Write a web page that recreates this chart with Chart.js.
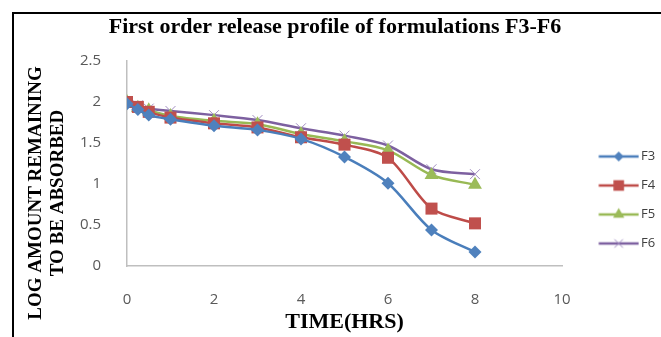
<!DOCTYPE html>
<html>
<head>
<meta charset="utf-8">
<script src="https://cdn.jsdelivr.net/npm/chart.js@4/dist/chart.umd.min.js"></script>
<style>
  html, body { margin: 0; padding: 0; background: #fff; }
  #wrap { position: relative; width: 661px; height: 337px; overflow: hidden; }
  #frame { position: absolute; left: 12px; top: 12px; right: -10px; bottom: -10px;
           border-left: 2px solid #000; border-top: 2px solid #000; pointer-events: none; }
  canvas { position: absolute; left: 0; top: 0; }
</style>
</head>
<body>
<div id="wrap">
  <canvas id="c" width="661" height="337"></canvas>
  <div id="frame"></div>
</div>
<script>
// ---- data ----
const chartTitle = 'First order release profile of formulations F3-F6';
const xTitle = 'TIME(HRS)';
const yTitleLines = ['LOG AMOUNT REMAINING', 'TO BE ABSORBED'];
const times = [0, 0.25, 0.5, 1, 2, 3, 4, 5, 6, 7, 8];
const seriesNames = ['F3', 'F4', 'F5', 'F6'];
const F3 = [1.98, 1.91, 1.84, 1.79, 1.71, 1.66, 1.55, 1.33, 1.01, 0.44, 0.17];
const F4 = [2.00, 1.94, 1.88, 1.81, 1.74, 1.69, 1.57, 1.48, 1.32, 0.70, 0.52];
const F5 = [2.00, 1.93, 1.90, 1.83, 1.77, 1.73, 1.61, 1.52, 1.41, 1.11, 0.99];
const F6 = [2.00, 1.96, 1.92, 1.89, 1.84, 1.78, 1.68, 1.59, 1.47, 1.18, 1.12];
const xTicks = [0, 2, 4, 6, 8, 10];
const yTicks = [0, 0.5, 1, 1.5, 2, 2.5];

// ---- styles ----
const styles = [
  { line: '#4A7EBB', fill: '#4F81BD', point: 'rectRot', r: 6.5, lr: 5 },
  { line: '#BE4B48', fill: '#C0504D', point: 'rect', r: 8.5, lr: 7.5 },
  { line: '#98B954', fill: '#9BBB59', point: 'triangle', r: 8, lr: 6.5 },
  { line: '#7D60A0', fill: '#A08CC0', point: 'crossRot', r: 7, lr: 6 }
];
const values = [F3, F4, F5, F6];

function drawMarker(ctx, style, r, x, y) {
  ctx.beginPath();
  if (style === 'rectRot') {
    ctx.moveTo(x, y - r); ctx.lineTo(x + r, y); ctx.lineTo(x, y + r); ctx.lineTo(x - r, y); ctx.closePath(); ctx.fill();
  } else if (style === 'rect') {
    const s = r * Math.SQRT1_2; ctx.rect(x - s, y - s, 2 * s, 2 * s); ctx.fill();
  } else if (style === 'triangle') {
    ctx.moveTo(x, y - r); ctx.lineTo(x + r * 0.866, y + r * 0.5); ctx.lineTo(x - r * 0.866, y + r * 0.5); ctx.closePath(); ctx.fill();
  } else {
    const s = r * Math.SQRT1_2;
    ctx.lineWidth = 1;
    ctx.moveTo(x - s, y - s); ctx.lineTo(x + s, y + s); ctx.moveTo(x + s, y - s); ctx.lineTo(x - s, y + s); ctx.stroke();
  }
}
function legendImage(st) {
  const c = document.createElement('canvas');
  c.width = 66; c.height = 18;
  const ctx = c.getContext('2d');
  ctx.strokeStyle = st.line; ctx.lineWidth = 2.5;
  ctx.beginPath(); ctx.moveTo(25.5, 9); ctx.lineTo(65.5, 9); ctx.stroke();
  ctx.fillStyle = st.fill; ctx.strokeStyle = st.fill;
  drawMarker(ctx, st.point, st.lr, 45.5, 9);
  return c;
}

const datasets = seriesNames.map((name, i) => ({
  label: name,
  data: times.map((t, k) => ({ x: t, y: values[i][k] })),
  borderColor: styles[i].line,
  backgroundColor: styles[i].fill,
  pointBackgroundColor: styles[i].fill,
  pointBorderColor: styles[i].fill,
  pointStyle: styles[i].point,
  pointRadius: styles[i].r,
  pointBorderWidth: styles[i].point === 'crossRot' ? 1 : 0,
  borderWidth: 2.5,
  tension: 0.3,
  legendImg: legendImage(styles[i])
}));

const yTitlePlugin = {
  id: 'yTitle',
  afterDraw(chart) {
    const ctx = chart.ctx;
    ctx.save();
    ctx.translate(36, 193);
    ctx.rotate(-Math.PI / 2);
    ctx.fillStyle = '#000';
    ctx.font = 'bold 19px "Liberation Serif", "Times New Roman", serif';
    ctx.textAlign = 'center';
    ctx.textBaseline = 'middle';
    yTitleLines.forEach((t, i) => ctx.fillText(t, 0, i * 22));
    ctx.restore();
  }
};

const tickFont = { family: '"Open Sans", "Liberation Sans", sans-serif', size: 15 };

new Chart(document.getElementById('c'), {
  type: 'line',
  data: { datasets },
  options: {
    responsive: false,
    animation: false,
    layout: { padding: { left: 9, right: 0, top: 0, bottom: 0 } },
    plugins: {
      title: {
        display: true, text: chartTitle, color: '#000',
        font: { family: '"Liberation Serif", "Times New Roman", serif', size: 22, weight: 'bold', lineHeight: 1.2 },
        padding: { top: 14, bottom: 20.6 }
      },
      legend: {
        position: 'right', align: 'end', fullSize: false, maxWidth: 99,
        labels: {
          usePointStyle: true, pointStyleWidth: 56.5, padding: 16,
          color: '#404040',
          font: { family: '"Open Sans", "Liberation Sans", sans-serif', size: 13 },
          generateLabels(chart) {
            return chart.data.datasets.map((d, i) => ({
              text: d.label, pointStyle: d.legendImg, fontColor: '#404040',
              fillStyle: d.backgroundColor, strokeStyle: d.borderColor, lineWidth: 0,
              hidden: false, datasetIndex: i
            }));
          }
        }
      },
      tooltip: { enabled: false }
    },
    scales: {
      x: {
        type: 'linear', min: 0, max: 10,
        afterBuildTicks(s) { s.ticks = xTicks.map(v => ({ value: v })); },
        afterFit(s) { s.height = 71; },
        grid: { display: false },
        border: { display: true, color: '#BFBFBF', width: 1.5 },
        ticks: { padding: 16.5, color: '#595959', font: tickFont, callback: v => String(v) },
        title: {
          display: true, text: xTitle, color: '#000',
          font: { family: '"Liberation Serif", "Times New Roman", serif', size: 22, weight: 'bold', lineHeight: 1.2 },
          padding: { top: 0, bottom: 1 }
        }
      },
      y: {
        min: 0, max: 2.5,
        afterBuildTicks(s) { s.ticks = yTicks.map(v => ({ value: v })); },
        afterFit(s) { s.width = 118; },
        grid: { display: false },
        border: { display: true, color: '#BFBFBF', width: 1.5 },
        ticks: { padding: 18, color: '#595959', font: tickFont, callback: v => String(v) }
      }
    }
  },
  plugins: [yTitlePlugin]
});
</script>
</body>
</html>
